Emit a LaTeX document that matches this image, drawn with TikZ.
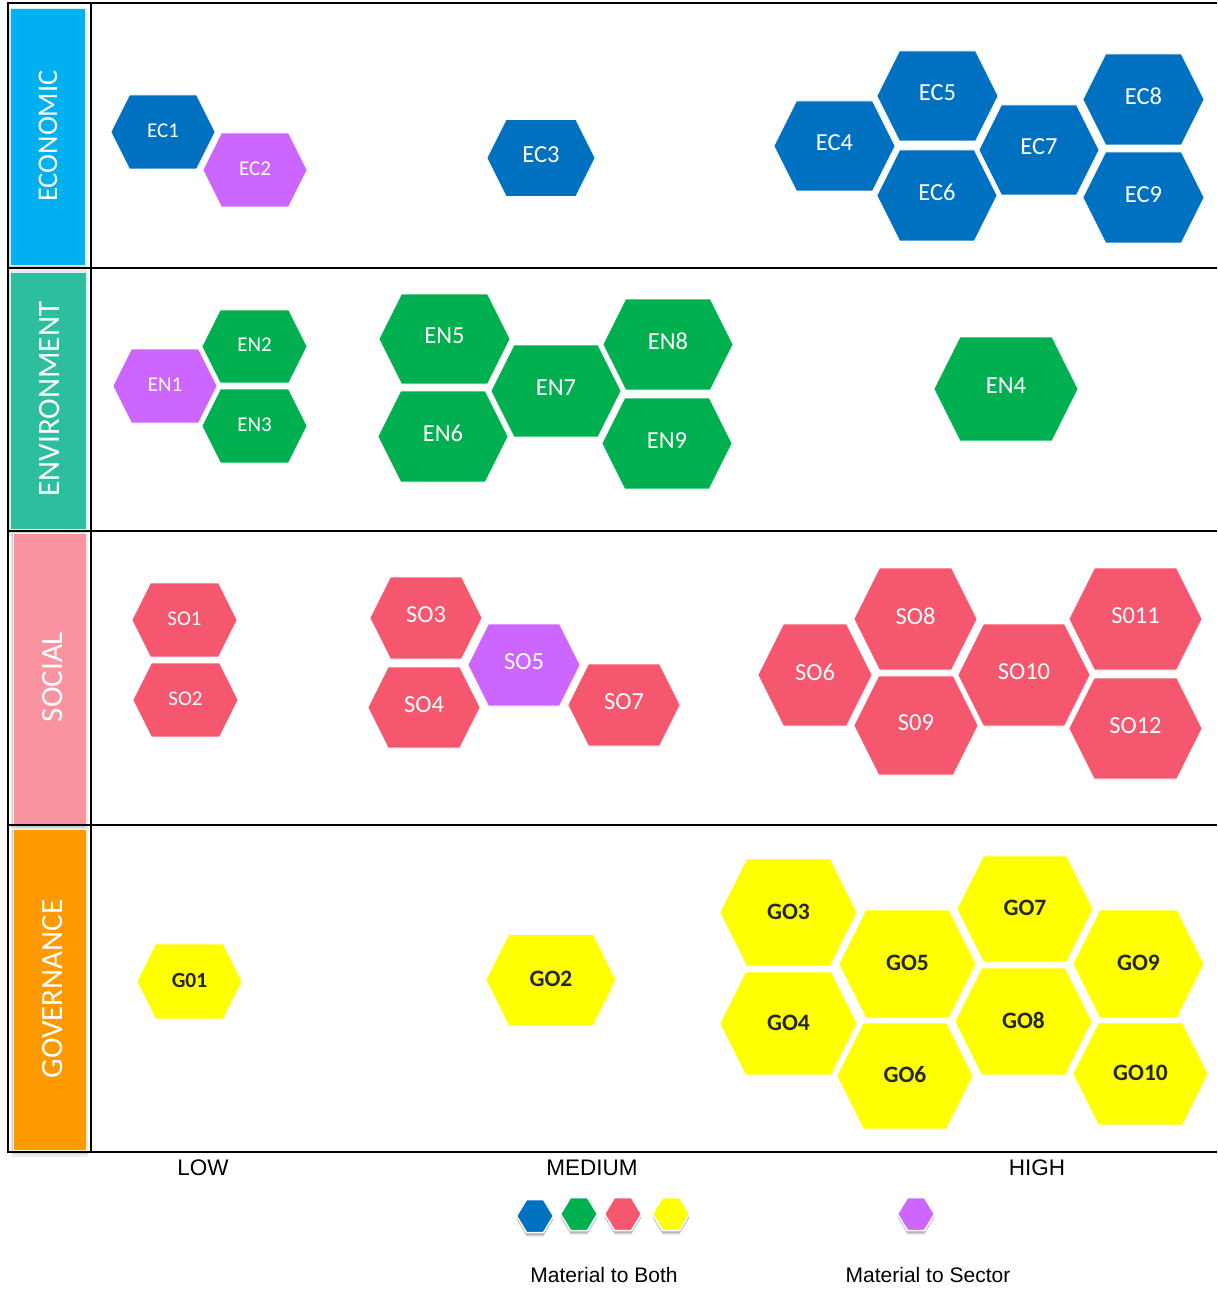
\documentclass[tikz,border=0pt]{standalone}
\usepackage{fontspec}
\setmainfont{Carlito}
\newfontfamily\arialf{Liberation Sans}
\definecolor{hblue}{HTML}{0070C0}
\definecolor{hgreen}{HTML}{00B050}
\definecolor{hpink}{HTML}{F5576F}
\definecolor{hyellow}{HTML}{FFFF00}
\definecolor{hpurple}{HTML}{CC66FF}
\definecolor{bandecon}{HTML}{00B0F0}
\definecolor{bandenv}{HTML}{2DBE9F}
\definecolor{bandsoc}{HTML}{F9939F}
\definecolor{bandgov}{HTML}{FF9900}
\definecolor{godark}{HTML}{262626}
\tikzset{
  labS/.style={text=white, font=\fontsize{21}{25}\selectfont, inner sep=0pt, yshift=1.5pt},
  labL/.style={text=white, font=\fontsize{24.5}{28}\selectfont, inner sep=0pt, yshift=3pt},
  goS/.style={text=godark, font=\bfseries\fontsize{21.5}{25}\selectfont, inner sep=0pt, yshift=1pt},
  goL/.style={text=godark, font=\bfseries\fontsize{23.5}{27}\selectfont, inner sep=0pt, yshift=1pt},
  bandlabel/.style={rotate=90, text=white, inner sep=0pt},
  axislabel/.style={font=\arialf\fontsize{22.5}{26}\selectfont, inner sep=0pt},
  legendlabel/.style={font=\arialf\fontsize{21}{25}\selectfont, inner sep=0pt},
  frameline/.style={line width=2pt, black},
}
\newcommand{\hexinset}{0.25}
% name, cx, cy, w, h, fill, label style, text
\newcommand{\hexa}[8]{%
  \pgfmathsetmacro{\hxl}{#2-#4/2}\pgfmathsetmacro{\hxr}{#2+#4/2}%
  \pgfmathsetmacro{\hxil}{#2-#4/2+#5*\hexinset}\pgfmathsetmacro{\hxir}{#2+#4/2-#5*\hexinset}%
  \pgfmathsetmacro{\hyt}{#3-#5/2}\pgfmathsetmacro{\hyb}{#3+#5/2}%
  \path[fill=#6, draw=white, line width=0.6pt] (\hxl,#3) -- (\hxil,\hyt) -- (\hxir,\hyt) -- (\hxr,#3) -- (\hxir,\hyb) -- (\hxil,\hyb) -- cycle;
  \node[#7] (#1) at (#2,#3) {#8};
}
% legend hexagon with shadow: name, cx, cy, fill
\newcommand{\lhexa}[4]{%
  \pgfmathsetmacro{\hxl}{#2-18.5}\pgfmathsetmacro{\hxr}{#2+18.5}%
  \pgfmathsetmacro{\hxil}{#2-18.5+10}\pgfmathsetmacro{\hxir}{#2+18.5-10}%
  \pgfmathsetmacro{\hyt}{#3-16.5}\pgfmathsetmacro{\hyb}{#3+16.5}%
  \foreach \s/\o in {4/0.10,3/0.12,2/0.15}{
    \path[fill=black, opacity=\o] (\hxl,#3+\s) -- (\hxil,\hyt+\s) -- (\hxir,\hyt+\s) -- (\hxr,#3+\s) -- (\hxir,\hyb+\s) -- (\hxil,\hyb+\s) -- cycle;
  }
  \path[fill=#4, draw=white, line width=1.5pt] (\hxl,#3) -- (\hxil,\hyt) -- (\hxir,\hyt) -- (\hxr,#3) -- (\hxir,\hyb) -- (\hxil,\hyb) -- cycle;
  \coordinate (#1) at (#2,#3);
}
\begin{document}
\begin{tikzpicture}[x=1pt, y=-1pt]
\useasboundingbox[fill=white] (0,0) rectangle (1217,1289);

% ---- category bands ----
\foreach \xa/\ya/\xb/\yb in {10/9/85/265, 10/272/86/529, 13/533/86/824, 13/829/86/1150}{
  \fill[black, opacity=0.10] (\xa-2,\ya+1) rectangle (\xb+1,\yb+4);
  \fill[black, opacity=0.08] (\xa-1,\ya+2) rectangle (\xb+2,\yb+7);
}
\path[fill=bandecon, draw=white!85!bandecon, line width=1pt] (10,9) rectangle (85,265);
\path[fill=bandenv, draw=white!85!bandenv, line width=1pt] (10,272) rectangle (86,529);
\path[fill=bandsoc, draw=white!85!bandsoc, line width=1pt] (13,533) rectangle (86,824);
\path[fill=bandgov, draw=white!85!bandgov, line width=1pt] (13,829) rectangle (86,1150);
\node[bandlabel, font=\fontsize{28.5}{30}\selectfont] (econ) at (48,136) {ECONOMIC};
\node[bandlabel, font=\fontsize{31}{33}\selectfont] (envi) at (50,399) {ENVIRONMENT};
\node[bandlabel, font=\fontsize{31}{33}\selectfont] (soci) at (53,677) {SOCIAL};
\node[bandlabel, font=\fontsize{31}{33}\selectfont] (gove) at (53,989) {GOVERNANCE};

% ---- frame ----
\draw[frameline] (8,3) -- (1217,3);
\draw[frameline] (8,268) -- (1217,268);
\draw[frameline] (8,530.5) -- (1217,530.5);
\draw[frameline] (8,825) -- (1217,825);
\draw[frameline] (8,1152) -- (1217,1152);
\draw[frameline] (8,2) -- (8,1153);
\draw[frameline] (91,2) -- (91,1153);

% ---- economic ----
\hexa{EC1}{163}{132}{104}{74}{hblue}{labS}{EC1}
\hexa{EC2}{255}{170}{104}{74}{hpurple}{labS}{EC2}
\hexa{EC3}{541}{158}{108}{77}{hblue}{labL}{EC3}
\hexa{EC4}{834.5}{146}{121}{90}{hblue}{labL}{EC4}
\hexa{EC5}{937.5}{96}{121}{90}{hblue}{labL}{EC5}
\hexa{EC6}{937}{195.5}{120}{91}{hblue}{labL}{EC6}
\hexa{EC7}{1039}{150}{120}{90}{hblue}{labL}{EC7}
\hexa{EC8}{1143.5}{99.5}{121}{91}{hblue}{labL}{EC8}
\hexa{EC9}{1143.5}{197.5}{121}{91}{hblue}{labL}{EC9}

% ---- environment ----
\hexa{EN1}{165}{386}{104}{74}{hpurple}{labS}{EN1}
\hexa{EN2}{254.5}{346.5}{105}{73}{hgreen}{labS}{EN2}
\hexa{EN3}{254.5}{426}{105}{74}{hgreen}{labS}{EN3}
\hexa{EN5}{444.5}{339}{131}{90}{hgreen}{labL}{EN5}
\hexa{EN6}{443}{436.5}{130}{91}{hgreen}{labL}{EN6}
\hexa{EN7}{556}{391}{130}{92}{hgreen}{labL}{EN7}
\hexa{EN8}{668}{344.5}{130}{91}{hgreen}{labL}{EN8}
\hexa{EN9}{667}{443.5}{130}{91}{hgreen}{labL}{EN9}
\hexa{EN4}{1006}{389}{144}{104}{hgreen}{labL}{EN4}

% ---- social ----
\hexa{SO1}{184.5}{620}{105}{74}{hpink}{labS}{SO1}
\hexa{SO2}{185.5}{700}{105}{74}{hpink}{labS}{SO2}
\hexa{SO3}{426}{618}{112}{82}{hpink}{labL}{SO3}
\hexa{SO4}{424}{707.5}{112}{81}{hpink}{labL}{SO4}
\hexa{SO5}{524}{665}{112}{82}{hpurple}{labL}{SO5}
\hexa{SO7}{624}{705}{112}{82}{hpink}{labL}{SO7}
\hexa{SO6}{815}{675}{114}{102}{hpink}{labL}{SO6}
\hexa{SO8}{915.5}{619}{123}{102}{hpink}{labL}{SO8}
\hexa{SO9}{916}{725.5}{124}{99}{hpink}{labL}{S09}
\hexa{SO10}{1024}{675}{132}{102}{hpink}{labL}{SO10}
\hexa{SO11}{1135.5}{619}{133}{102}{hpink}{labL}{S011}
\hexa{SO12}{1135.5}{728.5}{133}{101}{hpink}{labL}{SO12}

% ---- governance ----
\hexa{GO1}{189.5}{981.5}{105}{75}{hyellow}{goS}{G01}
\hexa{GO2}{551}{980}{130}{91}{hyellow}{goL}{GO2}
\hexa{GO3}{788.5}{912.5}{137}{107}{hyellow}{goL}{GO3}
\hexa{GO4}{788.5}{1023.5}{137}{103}{hyellow}{goL}{GO4}
\hexa{GO5}{907.5}{964}{137}{108}{hyellow}{goL}{GO5}
\hexa{GO6}{905}{1076}{136}{106}{hyellow}{goL}{GO6}
\hexa{GO7}{1025}{909}{136}{106}{hyellow}{goL}{GO7}
\hexa{GO8}{1023.5}{1021.5}{137}{107}{hyellow}{goL}{GO8}
\hexa{GO9}{1138.5}{964}{131}{108}{hyellow}{goL}{GO9}
\hexa{GO10}{1140.5}{1074}{135}{102}{hyellow}{goL}{GO10}

% ---- axis labels ----
\node[axislabel] (low) at (203,1168) {LOW};
\node[axislabel] (medium) at (592,1168) {MEDIUM};
\node[axislabel] (high) at (1037,1168) {HIGH};

% ---- legend ----
\lhexa{LB}{535}{1216}{hblue}
\lhexa{LG}{579}{1214}{hgreen}
\lhexa{LR}{623}{1214}{hpink}
\lhexa{LY}{671}{1214}{hyellow}
\lhexa{LP}{916}{1214}{hpurple}
\node[legendlabel] (both) at (604,1275) {Material to Both};
\node[legendlabel] (sector) at (928,1275) {Material to Sector};
\end{tikzpicture}
\end{document}
